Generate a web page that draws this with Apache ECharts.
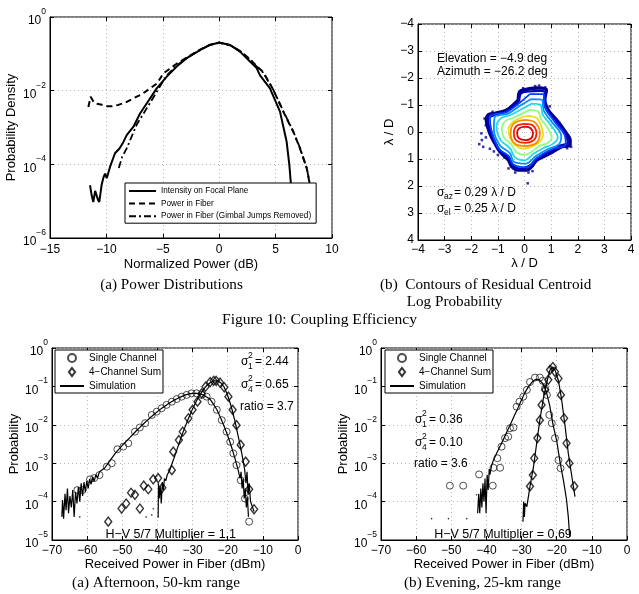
<!DOCTYPE html>
<html><head><meta charset="utf-8">
<script src="https://cdn.jsdelivr.net/npm/echarts@6/dist/echarts.min.js"></script>
<style>html,body{margin:0;padding:0;background:#fff}#c{width:639px;height:594px}</style>
</head><body><div id="c"></div>
<script>
// ---------- (a) Power Distributions : [Normalized Power dB, probability density]
const focalPlane = [[-11.45,2.7e-5],[-11.3,1.4e-5],[-11.16,9.5e-6],[-11.0,1.9e-5],[-10.86,2.0e-5],[-10.75,1.1e-5],[-10.63,9.5e-6],[-10.42,2.8e-5],[-10.25,4.5e-5],[-10.12,5.6e-5],[-9.97,4.2e-5],[-9.68,8.5e-5],[-9.24,2.0e-4],[-8.84,2.7e-4],[-8.5,4.0e-4],[-8.2,6.2e-4],[-7.6,1.05e-3],[-7.02,2.4e-3],[-6.43,4.5e-3],[-5.54,1.15e-2],[-4.65,2.4e-2],[-3.77,4.5e-2],[-2.88,7.6e-2],[-1.7,0.126],[-0.82,0.174],[0,0.204],[0.96,0.174],[1.84,0.115],[2.73,0.062],[3.32,0.041],[3.62,0.026],[4.5,0.0115],[5.39,2.7e-3],[5.98,4.1e-4],[6.22,9.5e-5],[6.34,3.4e-5],[6.43,1.6e-5]];
const powerFiber = [[-11.6,3.6e-3],[-11.4,6.8e-3],[-11.2,5.4e-3],[-11.0,4.5e-3],[-10.5,4.2e-3],[-9.97,3.8e-3],[-9.5,3.8e-3],[-8.94,4.1e-3],[-8.3,4.8e-3],[-7.6,6.2e-3],[-6.9,7.9e-3],[-6.13,1.15e-2],[-5.5,0.0158],[-4.95,0.0295],[-3.77,0.054],[-2.88,0.079],[-1.7,0.13],[-0.82,0.176],[0,0.2],[0.96,0.172],[1.84,0.12],[2.73,0.071],[3.3,0.047],[3.9,0.032],[4.8,0.0105],[5.68,2.7e-3],[6.57,7.6e-4],[7.16,2.7e-4],[7.76,7.8e-5],[8.05,2.7e-5],[8.15,1.2e-5]];
const powerFiberNoJumps = [[-8.9,8e-5],[-8.6,1.6e-4],[-8.2,2.7e-4],[-7.7,6.3e-4],[-7.31,1.2e-3],[-6.43,3.3e-3],[-5.54,9.3e-3],[-4.65,0.026],[-3.77,0.048],[-2.88,0.077],[-1.7,0.128],[-0.82,0.175],[0,0.2],[0.96,0.173],[1.84,0.12],[2.73,0.07],[3.3,0.046],[3.9,0.031],[4.8,0.0105],[5.68,2.8e-3],[6.57,7.8e-4],[7.16,2.8e-4],[7.76,8e-5],[8.05,2.8e-5],[8.15,1.2e-5]];

// ---------- (b) Contours of residual centroid (lambda/D), outer -> inner
const contourNavy = [[-0.23,-1.19],[-0.17,-1.5],[0.14,-1.59],[0.51,-1.63],[0.82,-1.56],[0.76,-1.19],[0.89,-0.81],[1.21,-0.44],[1.53,-0.01],[1.71,0.3],[1.71,0.48],[1.4,0.54],[0.96,0.79],[0.46,1.04],[0.27,1.28],[0.09,1.41],[-0.23,1.41],[-0.48,1.28],[-0.6,1.04],[-0.92,0.73],[-1.11,0.42],[-1.3,0.05],[-1.43,-0.44],[-1.36,-0.63],[-1.11,-0.69],[-0.67,-0.81],[-0.36,-1.06],[-0.23,-1.19]];
const contourDarkBlue = [[-0.2,-1.12],[-0.13,-1.43],[0.17,-1.5],[0.6,-1.52],[0.77,-1.45],[0.74,-1.1],[0.86,-0.75],[1.17,-0.43],[1.5,0.04],[1.63,0.4],[1.35,0.5],[0.95,0.72],[0.45,1.0],[0.2,1.24],[-0.15,1.36],[-0.45,1.23],[-0.59,0.97],[-0.95,0.66],[-1.1,0.38],[-1.27,0.0],[-1.37,-0.47],[-1.08,-0.64],[-0.66,-0.76],[-0.33,-1.02],[-0.2,-1.12]];
const contourBlue = [[0.2,-1.4],[0.72,-1.4],[0.75,-1.0],[1.1,-0.42],[1.5,0.1],[1.55,0.45],[1.0,0.65],[0.45,0.97],[0.1,1.3],[-0.42,1.2],[-0.58,0.9],[-0.98,0.6],[-1.25,-0.1],[-1.3,-0.55],[-0.65,-0.75],[-0.28,-1.0],[0.2,-1.4]];
const contourLightBlue = [[0.25,-1.22],[0.65,-1.2],[0.72,-0.8],[1.0,-0.4],[1.38,0.15],[1.3,0.45],[0.85,0.65],[0.42,0.9],[0.05,1.17],[-0.4,1.1],[-0.55,0.78],[-0.92,0.5],[-1.15,-0.1],[-1.12,-0.55],[-0.62,-0.68],[-0.2,-0.95],[0.25,-1.22]];
const contourCyan = [[0.25,-1.05],[0.6,-1.0],[0.68,-0.65],[0.95,-0.3],[1.25,0.2],[1.05,0.45],[0.7,0.6],[0.35,0.8],[0.0,1.05],[-0.35,0.95],[-0.55,0.6],[-0.9,0.3],[-1.05,-0.2],[-0.9,-0.5],[-0.55,-0.62],[-0.1,-0.85],[0.25,-1.05]];
const contourGreen = [[0.2,-0.82],[0.52,-0.75],[0.62,-0.48],[0.85,-0.18],[1.02,0.2],[0.85,0.42],[0.55,0.52],[0.28,0.72],[0.0,0.85],[-0.3,0.75],[-0.5,0.45],[-0.78,0.2],[-0.85,-0.15],[-0.7,-0.42],[-0.42,-0.52],[-0.1,-0.68],[0.2,-0.82]];
const contourYellow = [[0.1,-0.6],[0.45,-0.52],[0.62,-0.25],[0.7,0.1],[0.55,0.38],[0.25,0.55],[-0.05,0.62],[-0.35,0.48],[-0.55,0.2],[-0.6,-0.12],[-0.42,-0.38],[-0.15,-0.52],[0.1,-0.6]];
const contourOrange = [[0.03,-0.45],[0.4,-0.35],[0.58,0.05],[0.45,0.4],[0.03,0.52],[-0.38,0.42],[-0.52,0.05],[-0.4,-0.32],[0.03,-0.45]];
const contourRed = [[0.03,-0.3],[0.3,-0.25],[0.45,0.05],[0.35,0.3],[0.03,0.4],[-0.3,0.32],[-0.4,0.05],[-0.3,-0.22],[0.03,-0.3]];
const contourRedInner = [[0.03,-0.2],[0.22,-0.15],[0.32,0.05],[0.24,0.24],[0.03,0.3],[-0.2,0.24],[-0.28,0.05],[-0.2,-0.14],[0.03,-0.2]];
const outlierDots = [[-1.6,0.3],[-1.55,0.55],[-1.7,0.45],[-1.3,0.62],[-1.15,0.72],[-1.0,0.85],[0.12,1.9],[0.78,-1.65],[0.55,-1.72],[-1.45,0.2],[1.75,0.55],[1.6,0.6],[-0.35,1.5],[0.3,1.45],[-1.5,-0.5],[1.0,0.75],[0.4,-1.7],[-0.05,-1.62],[0.95,-0.95],[1.3,-0.35],[1.62,0.15],[0.7,0.85],[0.15,1.5],[-0.6,1.35],[-0.75,0.95],[-1.45,-0.25],[-1.2,-0.75],[-0.5,-0.95],[-1.62,0.05]];
const contourColors = ['#00008b','#0000c8','#0040ff','#0090ff','#20d8e8','#90ff80','#e8e020','#ff8c00','#ff2000','#e00000'];

// ---------- (c) Afternoon, 50-km : [received power dBm, probability]
const singleAft = [[-62.8,2.0e-4],[-61.3,2.0e-4],[-59.2,3.8e-4],[-58.0,4.1e-4],[-56.5,4.9e-4],[-54.4,8.1e-4],[-53.0,1.0e-3],[-51.4,2.3e-3],[-49.7,2.7e-3],[-48.3,3.3e-3],[-46.4,6.6e-3],[-45.0,8.5e-3],[-43.5,0.011],[-41.6,0.018],[-40.2,0.022],[-38.8,0.027],[-37.4,0.033],[-35.9,0.040],[-34.5,0.047],[-33.1,0.054],[-31.7,0.060],[-30.3,0.066],[-28.9,0.066],[-27.4,0.060],[-26.0,0.054],[-24.6,0.040],[-23.1,0.0245],[-21.7,0.0132],[-20.3,6.6e-3],[-19.3,3.6e-3],[-18.4,1.8e-3],[-17.5,8.9e-4],[-16.3,3.6e-4],[-15.1,1.2e-4],[-13.9,3.0e-5]];
const sumAft = [[-54.0,3.0e-5],[-50.2,6.6e-5],[-48.9,8.9e-5],[-47.5,1.7e-4],[-46.4,1.5e-4],[-45.0,6.6e-5],[-43.9,2.6e-4],[-42.6,2.1e-4],[-41.2,3.8e-4],[-39.8,4.1e-4],[-38.6,2.3e-4],[-35.9,6.6e-4],[-35.5,2.0e-3],[-33.9,4.0e-3],[-32.8,6.6e-3],[-31.2,0.0148],[-30.0,0.0245],[-28.6,0.040],[-27.4,0.066],[-26.3,0.098],[-25.0,0.13],[-24.0,0.14],[-23.3,0.14],[-22.2,0.126],[-21.0,0.095],[-19.8,0.054],[-18.6,0.0245],[-17.5,9.8e-3],[-16.3,3.0e-3],[-14.9,1.1e-3],[-13.9,2.1e-4],[-12.5,6.3e-5]];
const simSingleAft = [[-67.2,4e-5],[-67.0,1.1e-4],[-66.7,3.6e-5],[-66.3,1.6e-4],[-66.0,6e-5],[-65.6,2.2e-4],[-65.3,5e-5],[-64.9,1.4e-4],[-64.5,7e-5],[-64.1,2e-4],[-63.7,4e-5],[-63.3,1.8e-4],[-62.9,9e-5],[-62.5,2.4e-4],[-62.1,1e-4],[-61.7,3e-4],[-61.3,1.4e-4],[-60.9,3.2e-4],[-60.5,1.8e-4],[-60.1,3.4e-4],[-59.7,2.2e-4],[-59.3,3.9e-4],[-58.9,2.8e-4],[-58.4,4.4e-4],[-58,3.4e-4],[-57.5,5e-4],[-57,4.2e-4],[-56.5,6e-4],[-56,5.5e-4],[-55,7.5e-4],[-54,1e-3],[-53,1.35e-3],[-52,1.8e-3],[-51,2.3e-3],[-50,2.9e-3],[-49,3.6e-3],[-48,4.5e-3],[-47,5.6e-3],[-46,7e-3],[-45,8.6e-3],[-44,0.0105],[-43,0.0128],[-42,0.0155],[-41,0.0185],[-40,0.022],[-39,0.026],[-38,0.03],[-37,0.035],[-36,0.04],[-35,0.045],[-34,0.05],[-33,0.055],[-32,0.06],[-31,0.064],[-30,0.066],[-29,0.066],[-28,0.064],[-27,0.06],[-26,0.053],[-25,0.046],[-24,0.034],[-23,0.024],[-22,0.015],[-21,9e-3],[-20,5.2e-3],[-19,2.8e-3],[-18,1.4e-3],[-17,6.5e-4],[-16.5,4e-4],[-16.2,6e-4],[-15.9,2.2e-4],[-15.6,4e-4],[-15.3,1.2e-4],[-15.0,2.2e-4],[-14.7,7e-5],[-14.4,1.3e-4],[-14.1,4e-5]];
const simSumAft = [[-39.8,3.8e-5],[-39.7,3e-4],[-39.5,1.2e-4],[-39.2,2.5e-4],[-38.9,9e-5],[-38.6,3.2e-4],[-38.3,2e-4],[-38.0,4e-4],[-37.6,3.5e-4],[-37.2,5e-4],[-36.5,6.5e-4],[-36,9e-4],[-35,1.6e-3],[-34,3e-3],[-33,5.5e-3],[-32,9.5e-3],[-31,0.016],[-30,0.026],[-29,0.04],[-28,0.058],[-27,0.08],[-26,0.105],[-25,0.125],[-24,0.14],[-23,0.14],[-22,0.125],[-21,0.095],[-20,0.058],[-19,0.03],[-18,0.013],[-17,5e-3],[-16,1.8e-3],[-15.2,7e-4],[-14.8,3e-4],[-14.5,6e-4],[-14.2,1.5e-4],[-13.9,3e-4],[-13.5,1e-4],[-13,9e-5],[-12.5,5.5e-5]];
const simDotsAft = [[-66.9,7.4e-5],[-62.1,4e-5],[-43.2,4e-5],[-41.6,4.5e-5],[-41.2,6.5e-5]];

// ---------- (d) Evening, 25-km
const singleEve = [[-50.4,2.6e-4],[-46.6,2.6e-4],[-42.1,5.1e-4],[-38.2,2.6e-4],[-38.0,7.6e-4],[-36.9,1.35e-3],[-36.1,7.6e-4],[-35.7,2.7e-3],[-34.7,4.5e-3],[-33.8,4.9e-3],[-33.3,8.1e-3],[-32.3,8.5e-3],[-31.4,0.0295],[-30.6,0.040],[-29.5,0.054],[-28.5,0.081],[-27.6,0.13],[-26.2,0.17],[-24.8,0.17],[-24.0,0.14],[-23.3,0.089],[-22.8,0.060],[-22.1,0.018],[-21.4,0.011],[-20.5,4.5e-3],[-19.5,1.2e-3],[-18.9,7.4e-4]];
const sumEve = [[-27.6,2.5e-4],[-26.8,4.9e-4],[-26.4,1.35e-3],[-25.5,4.5e-3],[-24.8,0.0132],[-24.3,0.033],[-23.3,0.081],[-22.4,0.148],[-21.9,0.27],[-21.1,0.32],[-20.5,0.24],[-19.5,0.16],[-18.8,0.06],[-17.9,0.0148],[-17.2,3.3e-3],[-16.4,1.0e-3],[-15.0,2.5e-4]];
const simSingleEve = [[-42.5,5e-5],[-42.2,1.6e-4],[-41.9,5e-5],[-41.6,2.2e-4],[-41.3,7e-5],[-41,3e-4],[-40.7,1e-4],[-40.4,4e-4],[-40.1,5e-5],[-39.8,5e-4],[-39.5,2e-4],[-39.2,7e-4],[-39,5e-4],[-38.5,9e-4],[-38,1.2e-3],[-37,1.9e-3],[-36,2.9e-3],[-35,4.5e-3],[-34,7.1e-3],[-33,0.0112],[-32,0.0178],[-31,0.028],[-30,0.045],[-29,0.07],[-28,0.1],[-27,0.13],[-26,0.152],[-25,0.15],[-24,0.12],[-23,0.075],[-22,0.032],[-21,9.5e-3],[-20,3.8e-3],[-19,1.0e-3],[-18,3.2e-4],[-17.2,1.1e-4],[-16.7,4e-5],[-16.3,1.2e-5]];
const simSumEve = [[-29.6,3e-5],[-29.4,1e-4],[-29.2,4e-5],[-29.0,9e-5],[-28.5,7.4e-5],[-27.6,2.5e-4],[-26.6,8.1e-4],[-25.7,3.3e-3],[-24.8,0.0132],[-23.8,0.049],[-22.8,0.13],[-21.9,0.27],[-21.1,0.32],[-20.5,0.27],[-19.5,0.14],[-18.6,0.045],[-17.6,8.9e-3],[-16.7,1.8e-3],[-15.7,4.5e-4],[-14.8,1.35e-4]];
const simDotsEve = [[-55.6,3.6e-5],[-50.8,3.6e-5],[-45.6,3.6e-5],[-42.8,1.5e-4]];

const xTicksA = [-15, 10, 5], xTicksB = [-4, 4, 1], xTicksCD = [-70, 0, 10];

// ---------- chart
const M = '\u2212';
const neg = v => String(v).replace(/-/g, M);
const FF = 'Liberation Sans';
const logLbl = v => { const e = Math.round(Math.log10(v)); return '{b|10}{e|' + neg(e) + '}'; };
const logRich = { b:{fontSize:12,fontFamily:FF,color:'#000',lineHeight:20,verticalAlign:'bottom'}, e:{fontSize:8.5,fontFamily:FF,color:'#000',lineHeight:8,verticalAlign:'top'} };
function ax(extra){
  return Object.assign({
    axisLine:{show:true,onZero:false,lineStyle:{color:'#000',width:1}},
    axisTick:{show:true,inside:true,length:4,lineStyle:{color:'#000',width:1}},
    splitLine:{show:true,lineStyle:{color:'#b4b4b4',type:[1,3],width:1}},
    nameLocation:'middle',
    nameTextStyle:{fontFamily:FF,fontSize:13,color:'#000'},
    axisLabel:{fontFamily:FF,fontSize:12,color:'#000',margin:5,formatter:v=>neg(v)}
  }, extra);
}
// mirrored tick-only axes (top / right) like a boxed plot
function mirror(extra){
  return Object.assign({
    axisLine:{show:false,onZero:false}, axisLabel:{show:false}, splitLine:{show:false},
    axisTick:{show:true,inside:true,length:4,lineStyle:{color:'#000',width:1}}
  }, extra);
}
const gridStyle = {show:true,borderColor:'#000',borderWidth:1,backgroundColor:'#fff',containLabel:false,outerBoundsMode:'none'};

const contourData = [contourNavy,contourDarkBlue,contourBlue,contourLightBlue,contourCyan,contourGreen,contourYellow,contourOrange,contourRed,contourRedInner];
const series = [
  {type:'line',name:'Intensity on Focal Plane',xAxisIndex:0,yAxisIndex:0,data:focalPlane,symbol:'none',itemStyle:{color:'#000'},lineStyle:{color:'#000',width:2}},
  {type:'line',name:'Power in Fiber',xAxisIndex:0,yAxisIndex:0,data:powerFiber,symbol:'none',itemStyle:{color:'#000'},lineStyle:{color:'#000',width:2,type:[6,4]}},
  {type:'line',name:'Power in Fiber (Gimbal Jumps Removed)',xAxisIndex:0,yAxisIndex:0,data:powerFiberNoJumps,symbol:'none',itemStyle:{color:'#000'},lineStyle:{color:'#000',width:1.8,type:[7,3,2,3]}},
];
contourData.forEach((d,i)=>series.push({type:'line',name:'contour'+i,xAxisIndex:1,yAxisIndex:1,data:d,symbol:'none',smooth:0.35,lineStyle:{color:contourColors[i],width:i===0?3.5:(i===1?2.2:1.8)}}));
series.push({type:'scatter',name:'outliers',xAxisIndex:1,yAxisIndex:1,data:outlierDots,symbol:'rect',symbolSize:2.5,itemStyle:{color:contourColors[0]}});

const simLine = {color:'#000',width:1.2};
const circleStyle = {color:'rgba(0,0,0,0)',borderColor:'#222',borderWidth:1};
const diamondPath = 'path://M5 0L10 6.5L5 13L0 6.5Z';
[[2,simSingleAft,simSumAft,singleAft,sumAft,simDotsAft],[3,simSingleEve,simSumEve,singleEve,sumEve,simDotsEve]].forEach(([g,s1,s4,c,d,dots])=>{
  series.push({type:'line',name:'Simulation',xAxisIndex:g,yAxisIndex:g,data:s1,symbol:'none',itemStyle:{color:'#000'},lineStyle:simLine});
  series.push({type:'line',name:'Simulation',xAxisIndex:g,yAxisIndex:g,data:s4,symbol:'none',itemStyle:{color:'#000'},lineStyle:simLine});
  series.push({type:'scatter',name:'SimulationDots',xAxisIndex:g,yAxisIndex:g,data:dots,symbol:'circle',symbolSize:1.6,itemStyle:{color:'#000'}});
  series.push({type:'scatter',name:'Single Channel',xAxisIndex:g,yAxisIndex:g,data:c,symbol:'circle',symbolSize:7,itemStyle:circleStyle});
  series.push({type:'scatter',name:'4\u2212Channel Sum',xAxisIndex:g,yAxisIndex:g,data:d,symbol:'diamond',symbolSize:[7,9],itemStyle:{color:'rgba(0,0,0,0)',borderColor:'#000',borderWidth:1.4}});
});

const hideSym = {opacity:0};
const legBase = {orient:'vertical',backgroundColor:'#fff',borderColor:'#000',borderWidth:1,borderRadius:0,selectedMode:false,itemGap:3.5,align:'left',symbolKeepAspect:true};
const legCD = [{name:'Single Channel',icon:'circle'},{name:'4\u2212Channel Sum',icon:diamondPath},{name:'Simulation',itemStyle:hideSym}];
const legends = [
  Object.assign({},legBase,{data:[{name:'Intensity on Focal Plane',itemStyle:hideSym},{name:'Power in Fiber',itemStyle:hideSym},{name:'Power in Fiber (Gimbal Jumps Removed)',itemStyle:hideSym}],left:125,top:183,padding:[4,5,3,3],itemWidth:27,itemHeight:10,itemGap:4.6,textStyle:{fontFamily:FF,fontSize:8.2,color:'#000'}}),
  Object.assign({},legBase,{data:legCD,left:55,top:350,padding:[3,2,2,4],itemWidth:24,itemHeight:8,itemGap:4,textStyle:{fontFamily:FF,fontSize:10,color:'#000'}}),
  Object.assign({},legBase,{data:legCD,left:385,top:350,padding:[3,2,2,4],itemWidth:24,itemHeight:8,itemGap:4,textStyle:{fontFamily:FF,fontSize:10,color:'#000'}})
];

function txt(x,y,text,size,opts){
  return {type:'text',x:x,y:y,z:100,style:Object.assign({text:text,fontSize:size,fontFamily:FF,fill:'#000',textAlign:'left',align:'left',textVerticalAlign:'middle',verticalAlign:'middle'},opts||{})};
}
const SERIF = 'Liberation Serif';
function cap(x,y,text,align,size){ return txt(x,y,text,size||15.2,{fontFamily:SERIF,textAlign:align,align:align}); }
function sigma(x,y,sup,sub,rest){
  const out = [txt(x,y,'\u03c3',12)];
  if (sup) out.push(txt(x+7,y-6,sup,8.5));
  out.push(txt(x+7,y+(sup?5:4),sub,8.5));
  out.push(txt(x+(sup?14:(7.5+sub.length*4.8)),y,rest,12));
  return out;
}
const graphic = [
  cap(171.5,285,'(a) Power Distributions','center'),
  cap(380,285,'(b)  Contours of Residual Centroid','left'),
  cap(406.7,302,'Log Probability','left'),
  cap(319.5,320,'Figure 10: Coupling Efficiency','center',15.6),
  cap(156,583,'(a) Afternoon, 50-km range','center'),
  cap(482.5,583,'(b) Evening, 25-km range','center'),
  txt(437,58.3,'Elevation = '+M+'4.9 deg',12),
  txt(437,71.7,'Azimuth = '+M+'26.2 deg',12),
  ...sigma(437,192.7,null,'az','= 0.29 \u03bb / D'),
  ...sigma(437,208.3,null,'el','= 0.25 \u03bb / D'),
  ...sigma(241,361.7,'2','1','= 2.44'),
  ...sigma(241,385,'2','4','= 0.65'),
  txt(240,406.7,'ratio = 3.7',12),
  txt(170.7,535,'H'+M+'V 5/7 Multiplier = 1.1',12.5,{textAlign:'center',align:'center'}),
  ...sigma(415,420,'2','1','= 0.36'),
  ...sigma(415,442.7,'2','4','= 0.10'),
  txt(414,463.3,'ratio = 3.6',12),
  txt(503,535,'H'+M+'V 5/7 Multiplier = 0.69',12.5,{textAlign:'center',align:'center'})
];

const option = {
  animation:false,
  backgroundColor:'#fff',
  grid:[
    Object.assign({left:50,top:17,width:282,height:221},gridStyle),
    Object.assign({left:418,top:24,width:213,height:216},gridStyle),
    Object.assign({left:52,top:348,width:246,height:192},gridStyle),
    Object.assign({left:381,top:348,width:246,height:192},gridStyle)
  ],
  xAxis:[
    ax({type:'value',gridIndex:0,min:xTicksA[0],max:xTicksA[1],interval:xTicksA[2],name:'Normalized Power (dB)',nameGap:20,axisLabel:{fontFamily:FF,fontSize:12,color:'#000',margin:6,formatter:v=>neg(v)}}),
    ax({type:'value',gridIndex:1,min:xTicksB[0],max:xTicksB[1],interval:xTicksB[2],name:'\u03bb / D',nameGap:17,axisLabel:{fontFamily:FF,fontSize:12,color:'#000',margin:4,formatter:v=>neg(v)}}),
    ax({type:'value',gridIndex:2,min:xTicksCD[0],max:xTicksCD[1],interval:xTicksCD[2],name:'Received Power in Fiber (dBm)',nameGap:18,axisLabel:{fontFamily:FF,fontSize:12,color:'#000',margin:5,formatter:v=>neg(v)}}),
    ax({type:'value',gridIndex:3,min:xTicksCD[0],max:xTicksCD[1],interval:xTicksCD[2],name:'Received Power in Fiber (dBm)',nameGap:18,axisLabel:{fontFamily:FF,fontSize:12,color:'#000',margin:5,formatter:v=>neg(v)}}),
    mirror({type:'value',gridIndex:0,position:'top',min:xTicksA[0],max:xTicksA[1],interval:xTicksA[2]}),
    mirror({type:'value',gridIndex:1,position:'top',min:xTicksB[0],max:xTicksB[1],interval:xTicksB[2]}),
    mirror({type:'value',gridIndex:2,position:'top',min:xTicksCD[0],max:xTicksCD[1],interval:xTicksCD[2]}),
    mirror({type:'value',gridIndex:3,position:'top',min:xTicksCD[0],max:xTicksCD[1],interval:xTicksCD[2]})
  ],
  yAxis:[
    ax({type:'log',logBase:10,gridIndex:0,min:1e-6,max:1,interval:2,name:'Probability Density',nameGap:32,axisLabel:{margin:4,formatter:logLbl,rich:logRich}}),
    ax({type:'value',gridIndex:1,min:-4,max:4,interval:1,inverse:true,name:'\u03bb / D',nameGap:17,axisLabel:{fontFamily:FF,fontSize:12,color:'#000',margin:4,formatter:v=>neg(v)}}),
    ax({type:'log',logBase:10,gridIndex:2,min:1e-5,max:1,interval:1,name:'Probability',nameGap:29,axisLabel:{margin:4,formatter:logLbl,rich:logRich}}),
    ax({type:'log',logBase:10,gridIndex:3,min:1e-5,max:1,interval:1,name:'Probability',nameGap:28,axisLabel:{margin:4,formatter:logLbl,rich:logRich}}),
    mirror({type:'log',logBase:10,gridIndex:0,position:'right',min:1e-6,max:1,interval:2}),
    mirror({type:'value',gridIndex:1,position:'right',min:-4,max:4,interval:1,inverse:true}),
    mirror({type:'log',logBase:10,gridIndex:2,position:'right',min:1e-5,max:1,interval:1}),
    mirror({type:'log',logBase:10,gridIndex:3,position:'right',min:1e-5,max:1,interval:1})
  ],
  legend:legends,
  series:series,
  graphic:graphic
};
const chart = echarts.init(document.getElementById('c'),null,{renderer:'canvas'});
chart.setOption(option);
</script></body></html>
